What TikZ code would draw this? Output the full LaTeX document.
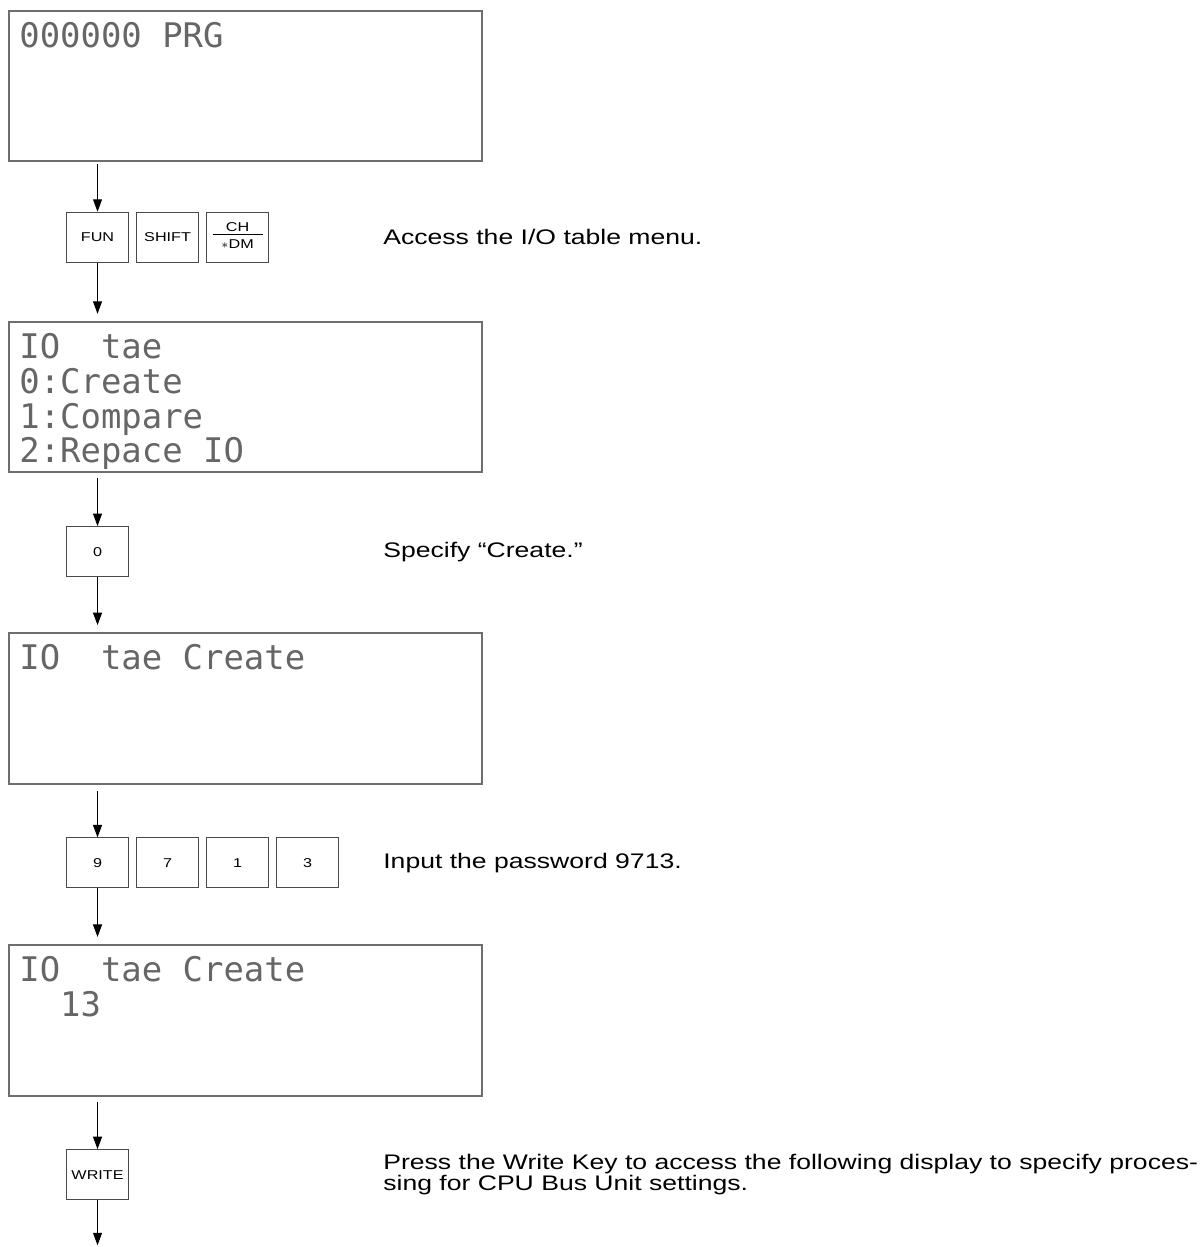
\documentclass[tikz,border=0pt]{standalone}
\usepackage{fontspec}
\setmainfont[FakeStretch=1.26]{Liberation Sans}
\newfontfamily\lcdfont{DejaVu Sans Mono}
\newcommand\lcdtype{\lcdfont\fontsize{19.3}{19.85}\selectfont\setlength{\lineskiplimit}{-20pt}}
\usetikzlibrary{arrows.meta,positioning}
\definecolor{LcdEdge}{HTML}{6E6E6E}
\definecolor{KeyEdge}{HTML}{4A4A4A}
\definecolor{LcdInk}{HTML}{666666}
\tikzset{
  display/.style={draw=LcdEdge,fill=white,line width=1pt,minimum width=9.46cm,minimum height=3cm,anchor=north west,inner sep=0},
  lcd/.style={font=\lcdtype,text=LcdInk,align=left,inner sep=0},
  key/.style={draw=KeyEdge,line width=.6pt,minimum width=1.24cm,minimum height=1cm,inner sep=0,font=\fontsize{7.3}{8}\selectfont},
  note/.style={anchor=west,inner sep=0,align=left,font=\fontsize{12}{12.2}\selectfont},
  flow/.style={-{Triangle[length=2.5mm,width=1.8mm]},line width=.6pt}
}

\begin{document}
\begin{tikzpicture}[node distance=.14cm]
        \useasboundingbox (0,0) rectangle (24.04,-24.94);
        \coordinate (notecol) at (7.66,0);
        \node[display] (prg) at (.16,-.2) {};
        \node[lcd,below right=.24cm and .22cm of prg.north west] (prgtxt) {000000 PRG};
        \node[key,below right=1cm and 1.16cm of prg.south west] (fun) {FUN};
        \node[key,right=of fun] (shift) {SHIFT};
        \node[key,right=of shift] (chdm) {\begin{tabular}{@{\hspace{5pt}}c@{\hspace{5pt}}}CH\\[-1pt]\hline\rule{0pt}{7.5pt}$\ast$DM\end{tabular}};
        \node[note] (accessnote) at (notecol |- chdm) {Access the I/O table menu.};
        \draw[flow,shorten <=.04cm] (prg.south -| fun) -- (fun);

        \node[display,below right=1.16cm and -1.16cm of fun.south west] (menu) {};
        \node[lcd,below right=.24cm and .22cm of menu.north west] (menutxt) {IO~~tae\\0:Create\\1:Compare\\2:Repace IO};
        \draw[flow,shorten >=.14cm] (fun) -- (fun |- menu.north);
        \node[key,below right=1.07cm and 1.16cm of menu.south west] (zero) {0};
        \node[note] (createnote) at (notecol |- zero) {Specify “Create.”};
        \draw[flow,shorten <=.1cm] (menu.south -| zero) -- (zero);

        \node[display,minimum height=3.02cm,below right=1.1cm and -1.16cm of zero.south west] (create) {};
        \node[lcd,below right=.24cm and .22cm of create.north west] (createtxt) {IO~~tae Create};
        \draw[flow,shorten >=.14cm] (zero) -- (zero |- create.north);
        \node[key,below right=1.05cm and 1.16cm of create.south west] (nine) {9};
        \node[key,right=of nine] (seven) {7};
        \node[key,right=of seven] (one) {1};
        \node[key,right=of one] (three) {3};
        \node[note] (pwdnote) at (notecol |- three) {Input the password 9713.};
        \draw[flow,shorten <=.12cm] (create.south -| nine) -- (nine);

        \node[display,minimum height=3.02cm,below right=1.11cm and -1.16cm of nine.south west] (pwd) {};
        \node[lcd,below right=.24cm and .22cm of pwd.north west] (pwdtxt) {IO~~tae Create\\\phantom{00}13};
        \draw[flow,shorten >=.14cm] (nine) -- (nine |- pwd.north);
        \node[key,below right=1.05cm and 1.16cm of pwd.south west] (write) {WRITE};
        \node[note] (writenote) at (notecol |- write) {Press the Write Key to access the following display to specify proces-\\sing for CPU Bus Unit settings.};
        \draw[flow,shorten <=.1cm] (pwd.south -| write) -- (write);
        \coordinate[below=.9cm of write] (tail);
        \draw[flow] (write) -- (tail);
      \end{tikzpicture}
\end{document}
